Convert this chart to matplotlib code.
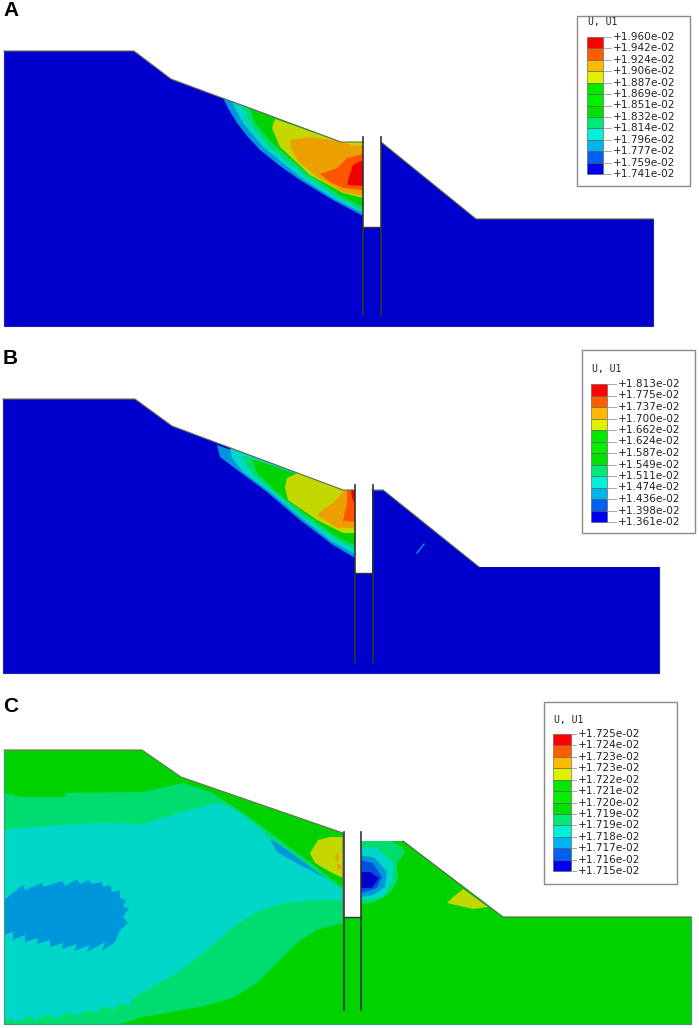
import numpy as np
import matplotlib
matplotlib.use('Agg')
from matplotlib import pyplot as plt

# legend values
legend_a = ['+1.960e-02', '+1.942e-02', '+1.924e-02', '+1.906e-02', '+1.887e-02', '+1.869e-02', '+1.851e-02',
            '+1.832e-02', '+1.814e-02', '+1.796e-02', '+1.777e-02', '+1.759e-02', '+1.741e-02']
legend_b = ['+1.813e-02', '+1.775e-02', '+1.737e-02', '+1.700e-02', '+1.662e-02', '+1.624e-02', '+1.587e-02',
            '+1.549e-02', '+1.511e-02', '+1.474e-02', '+1.436e-02', '+1.398e-02', '+1.361e-02']
legend_c = ['+1.725e-02', '+1.724e-02', '+1.723e-02', '+1.723e-02', '+1.722e-02', '+1.721e-02', '+1.720e-02',
            '+1.719e-02', '+1.719e-02', '+1.718e-02', '+1.717e-02', '+1.716e-02', '+1.715e-02']

bar_colors = ['#ff0000', '#ff5d00', '#ffb900', '#e0f000', '#00e800', '#00ee00', '#00e000', '#00e878',
              '#00f0d8', '#00b4f0', '#0060f0', '#0000f0']

# colours of the contour bands as they show in the plots
DARK = '#0000cd'
BLUE = '#0050e0'
SKY = '#0096dc'
CYAN = '#00d7c8'
MINT = '#00dc6e'
GREEN = '#00d200'
YGREEN = '#c3d700'
ORANGE = '#eba000'
ORED = '#ff5500'
RED = '#f00000'

# panel A, pixel coordinates
outline_a = [(4, 51), (134, 51), (171, 79), (341, 142), (363, 142), (363, 227), (381, 227), (381, 142),
             (476, 219), (653, 219), (653, 326), (4, 326)]
bands_a = [
    (SKY, [(223, 98), (341, 142), (363, 142), (363, 216), (333, 200), (300, 180), (280, 166), (260, 150),
           (248, 137), (237, 123), (228, 108)]),
    (CYAN, [(232, 101), (341, 142), (363, 142), (363, 213), (333, 198), (300, 177), (263, 147), (243, 123),
            (236, 110)]),
    (MINT, [(242, 105), (341, 142), (363, 142), (363, 211), (337, 197), (303, 175), (267, 145), (250, 123)]),
    (GREEN, [(250, 108), (341, 142), (363, 142), (363, 207), (340, 195), (307, 173), (272, 143), (255, 123)]),
    (YGREEN, [(275, 119), (341, 142), (363, 142), (363, 198), (343, 193), (310, 175), (280, 147), (272, 128)]),
    (ORANGE, [(290, 140), (310, 137), (333, 140), (352, 145), (363, 146), (363, 196), (343, 192), (317, 177),
              (297, 160), (291, 148)]),
    (ORED, [(320, 174), (337, 168), (347, 158), (363, 154), (363, 190), (343, 188), (330, 182)]),
    (RED, [(348, 180), (353, 165), (363, 160), (363, 186), (348, 185)]),
]

# panel B
outline_b = [(3, 399), (135, 399), (172, 426), (343, 490), (355, 490), (355, 573), (372, 573), (372, 490),
             (383, 490), (479, 567), (659, 567), (659, 673), (3, 673)]
bands_b = [
    (SKY, [(217, 445), (343, 490), (355, 490), (355, 558), (333, 545), (300, 520), (267, 492), (240, 472),
           (220, 457)]),
    (CYAN, [(230, 448), (343, 490), (355, 490), (355, 554), (333, 542), (300, 517), (270, 492), (243, 472),
            (232, 458)]),
    (MINT, [(243, 455), (343, 490), (355, 490), (355, 550), (337, 540), (303, 517), (275, 493), (253, 475),
            (245, 463)]),
    (GREEN, [(252, 459), (343, 490), (355, 490), (355, 545), (337, 537), (307, 515), (278, 493), (257, 473)]),
    (YGREEN, [(298, 473), (343, 490), (355, 490), (355, 533), (343, 533), (317, 520), (288, 500), (285, 488),
              (287, 478)]),
    (ORANGE, [(345, 490), (355, 490), (355, 528), (337, 528), (317, 515), (325, 508), (333, 503)]),
    (ORED, [(347, 490), (355, 490), (355, 522), (343, 521), (347, 503)]),
    (RED, [(351, 490), (355, 490), (355, 504), (352, 498)]),
    (SKY, [(416, 553), (424, 543), (425, 544), (417, 554)]),
    (SKY, [(373, 490), (383, 490), (384, 491), (373, 491)]),
]

# panel C
outline_c = [(4, 750), (142, 750), (181, 777), (343, 833), (343, 917), (361, 917), (361, 841), (403, 841),
             (503, 917), (691, 917), (691, 1024), (4, 1024)]
bands_c = [
    (MINT, [(4, 793), (23, 797), (65, 797), (66, 793), (143, 792), (183, 783), (213, 793), (243, 813), (267, 830),
            (333, 880), (343, 887), (343, 923), (317, 930), (297, 943), (277, 963), (257, 983), (233, 998),
            (200, 1007), (167, 1013), (143, 1017), (120, 1024), (4, 1024)]),
    (CYAN, [(4, 830), (33, 827), (100, 823), (143, 824), (183, 812), (217, 803), (233, 808), (253, 823), (283, 850),
            (343, 890), (343, 900), (317, 900), (283, 903), (257, 912), (233, 927), (207, 950), (177, 973),
            (133, 998), (130, 1006), (120, 1003), (113, 1010), (106, 1006), (95, 1013),
            (90, 1009), (75, 1016), (70, 1011), (55, 1019), (50, 1014), (35, 1020), (30, 1016), (15, 1022),
            (12, 1018), (4, 1021)]),
    (SKY, [(4, 900), (23, 885), (25, 890), (42, 883), (43, 887), (62, 881), (65, 886), (77, 879), (80, 884), (88, 880),
           (92, 884), (102, 882), (103, 887), (110, 885), (112, 892), (120, 890), (120, 898), (126, 900), (123, 907),
           (129, 908), (123, 917), (128, 923), (120, 930), (115, 942), (102, 951), (105, 942), (87, 952), (90, 945),
           (74, 951), (77, 944), (62, 949), (63, 943), (50, 947), (50, 940), (37, 944), (38, 938), (25, 942), (25, 935),
           (13, 940), (13, 932), (4, 935)]),
    (SKY, [(270, 839), (283, 847), (327, 879), (300, 865), (277, 852)]),
    (YGREEN, [(310, 853), (318, 840), (330, 837), (343, 837), (343, 878), (332, 873), (315, 863)]),
    (ORANGE, [(336, 853), (339, 856), (338, 862), (335, 861)]),
    (ORANGE, [(337, 864), (341, 865), (341, 869), (337, 869)]),
    (MINT, [(361, 841), (392, 841), (403, 848), (405, 853), (397, 863), (398, 880), (390, 893), (373, 903), (361, 904)]),
    (CYAN, [(361, 847), (377, 848), (393, 863), (393, 880), (383, 897), (361, 900)]),
    (SKY, [(361, 855), (375, 858), (387, 872), (385, 887), (373, 895), (361, 897)]),
    (BLUE, [(361, 860), (373, 863), (382, 877), (377, 888), (361, 893)]),
    (DARK, [(361, 872), (370, 872), (379, 878), (372, 888), (361, 888)]),
    (YGREEN, [(463, 889), (488, 907), (473, 909), (447, 903), (452, 898)]),
]


def draw_panel(ax, outline, base, bands, pile_x, pile_top, pile_bottom, gap_y, edge):
    xs, ys = zip(*outline)
    ax.fill(xs, ys, color=base, lw=0, zorder=1)
    for i, (col, pts) in enumerate(bands):
        px, py = zip(*pts)
        ax.fill(px, py, color=col, lw=0, zorder=2 + i * 0.01)
    # outer edge stays faint, ground surface is darker
    ax.plot(list(xs[-3:]) + [xs[0]], list(ys[-3:]) + [ys[0]], color=edge, lw=0.8, zorder=3)
    ax.plot(xs[:5], ys[:5], color='#6e6e50', lw=0.8, zorder=3)
    ax.plot(xs[7:10], ys[7:10], color='#55604a', lw=0.8, zorder=3)
    # the gap and the two piles
    ax.plot(pile_x, [gap_y, gap_y], color='#333333', lw=1.0, zorder=4)
    for x in pile_x:
        ax.plot([x, x], [pile_top, pile_bottom], color='#333333', lw=1.2, zorder=4)


def draw_legend(ax, labels, box, bar_x, bar_y, text_x, title_y):
    ax.add_patch(plt.Rectangle((box[0], box[2]), box[1] - box[0], box[3] - box[2], fc='white', ec='#8a8a8a',
                               lw=1.0, zorder=5))
    ax.text(bar_x[0] + 1, title_y, 'U, U1', fontsize=7, family='DejaVu Sans Mono', va='center', color='#222222',
            zorder=6)
    edges = np.linspace(bar_y[0], bar_y[1], len(labels))
    for i, lab in enumerate(labels):
        if i < 12:
            ax.add_patch(plt.Rectangle((bar_x[0], edges[i]), bar_x[1] - bar_x[0], edges[i + 1] - edges[i],
                                       fc=bar_colors[i], ec='#555555', lw=0.4, zorder=6))
        ax.plot([bar_x[1], text_x - 2], [edges[i], edges[i]], color='#999999', lw=0.6, zorder=6)
        ax.text(text_x, edges[i], lab, fontsize=7.6, va='center', color='#222222', zorder=6)


fig = plt.figure(figsize=(6.99, 10.28), dpi=100)
ax = fig.add_axes([0, 0, 1, 1])
ax.set_xlim(0, 699)
ax.set_ylim(1028, 0)
ax.axis('off')

draw_panel(ax, outline_a, DARK, bands_a, (363, 381), 137, 315, 227, '#2020b0')
draw_panel(ax, outline_b, DARK, bands_b, (355, 373), 485, 663, 573, '#2020b0')
draw_panel(ax, outline_c, GREEN, bands_c, (344, 361), 832, 1010, 917, '#3c9a7a')

draw_legend(ax, legend_a, (577, 690, 16, 186), (587, 603), (37, 174), 613, 22)
draw_legend(ax, legend_b, (582, 695, 350, 533), (591, 607), (384, 522), 618, 369)
draw_legend(ax, legend_c, (544, 677, 702, 884), (553, 571), (734, 871), 578, 720)

for lab, y in zip(['A', 'B', 'C'], [11, 358, 707]):
    ax.text(3, y, lab, fontsize=15, fontweight='bold', family='Liberation Sans', va='center')

plt.savefig('out.png', dpi=100)
